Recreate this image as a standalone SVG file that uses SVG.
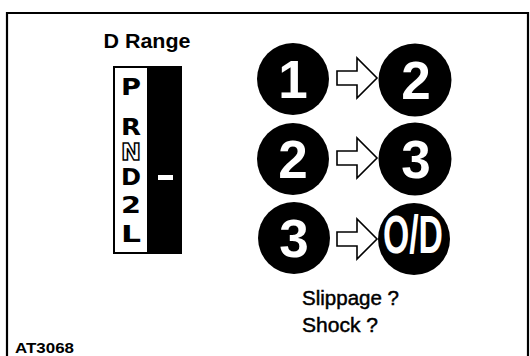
<svg xmlns="http://www.w3.org/2000/svg" width="530" height="356" viewBox="0 0 530 356">
<style>
.bold{font-family:"Liberation Sans",Arial,sans-serif;font-weight:bold}
.sel{font-family:"DejaVu Sans",sans-serif;font-weight:bold;font-size:23px;text-anchor:middle;fill:#000}
.num{font-family:"Liberation Sans",Arial,sans-serif;font-weight:bold;font-size:53px;text-anchor:middle;fill:#fff}
.gear{fill:#000}
.arrow{fill:#fff;stroke:#000;stroke-width:1.6;stroke-linejoin:miter}
.lbl{font-family:"Liberation Sans",Arial,sans-serif;font-size:20px;fill:#000;stroke:#000;stroke-width:0.45}
</style>
<defs>
<path id="arr" d="M0,-7 H20 V-20 L40,0 L20,20 V7 H0 Z"/>
</defs>
<rect width="530" height="356" fill="#fff"/>
<g id="frame">
<path d="M7,356 V13 H528 V356" fill="none" stroke="#000" stroke-width="2.2"/>
</g>
<g id="title">
<text class="bold" x="147" y="48" font-size="20" text-anchor="middle" textLength="87" lengthAdjust="spacingAndGlyphs">D Range</text>
</g>
<g id="selector">
<rect x="114" y="67" width="67" height="186" fill="#000" stroke="#000" stroke-width="2"/>
<rect x="115" y="68" width="32" height="184" fill="#fff"/>
<text class="sel" x="131" y="95" textLength="20" lengthAdjust="spacingAndGlyphs">P</text>
<text class="sel" x="131" y="135" textLength="20" lengthAdjust="spacingAndGlyphs">R</text>
<text class="sel" x="131" y="160" textLength="20" lengthAdjust="spacingAndGlyphs" stroke="#000" stroke-width="1.4" style="fill:#fff">N</text>
<text class="sel" x="131" y="185" textLength="20" lengthAdjust="spacingAndGlyphs">D</text>
<text class="sel" x="131" y="213" textLength="20" lengthAdjust="spacingAndGlyphs">2</text>
<text class="sel" x="131" y="242" textLength="20" lengthAdjust="spacingAndGlyphs">L</text>
<rect x="158" y="175" width="15" height="5" fill="#fff"/>
</g>
<g id="gear-1">
<circle class="gear" cx="293" cy="79" r="36"/>
<text class="num" x="293" y="98">1</text>
</g>
<g id="gear-2a">
<circle class="gear" cx="415" cy="80" r="36.5"/>
<text class="num" x="416" y="99">2</text>
</g>
<g id="gear-2b">
<circle class="gear" cx="293" cy="159" r="36"/>
<text class="num" x="293" y="178">2</text>
</g>
<g id="gear-3a">
<circle class="gear" cx="415" cy="159" r="36.5"/>
<text class="num" x="416" y="178">3</text>
</g>
<g id="gear-3b">
<circle class="gear" cx="294" cy="238" r="36"/>
<text class="num" x="294" y="257">3</text>
</g>
<g id="gear-od">
<circle class="gear" cx="414" cy="239" r="36"/>
<text class="num" x="413" y="253" font-size="42" textLength="60" lengthAdjust="spacingAndGlyphs">O/D</text>
</g>
<g id="connectors">
<use href="#arr" class="arrow" transform="translate(337,78)"/>
<use href="#arr" class="arrow" transform="translate(337,158)"/>
<use href="#arr" class="arrow" transform="translate(337,239)"/>
</g>
<g id="labels">
<text class="lbl" x="302" y="305" textLength="97" lengthAdjust="spacingAndGlyphs">Slippage ?</text>
<text class="lbl" x="302" y="332" textLength="76" lengthAdjust="spacingAndGlyphs">Shock ?</text>
<text class="bold" x="15" y="353" font-size="15" textLength="59" lengthAdjust="spacingAndGlyphs">AT3068</text>
</g>
</svg>
